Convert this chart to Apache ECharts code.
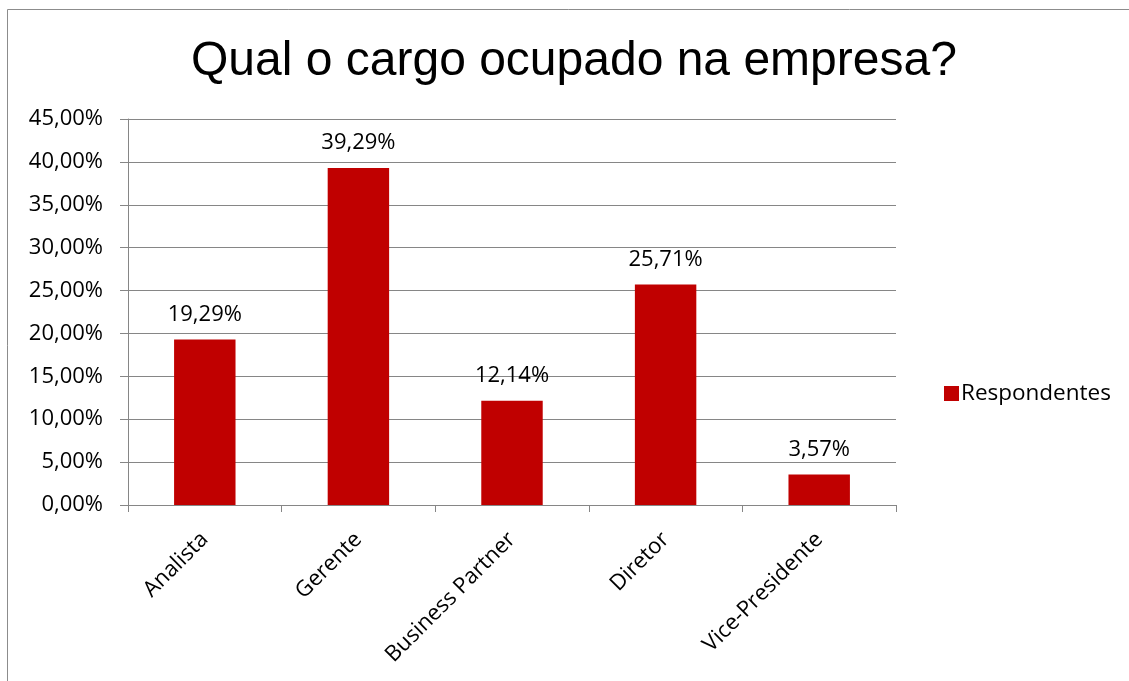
<!DOCTYPE html>
<html>
<head>
<meta charset="utf-8">
<script src="https://cdn.jsdelivr.net/npm/echarts@6/dist/echarts.min.js"></script>
<style>
html,body{margin:0;padding:0;background:#fff;}
#c{width:1129px;height:681px;}
</style>
</head>
<body>
<div id="c"></div>
<script>
const categories = ['Analista', 'Gerente', 'Business Partner', 'Diretor', 'Vice-Presidente'];
const values = [19.29, 39.29, 12.14, 25.71, 3.57];
const seriesName = 'Respondentes';
const titleText = 'Qual o cargo ocupado na empresa?';

const fmt = v => v.toFixed(2).replace('.', ',') + '%';
const chart = echarts.init(document.getElementById('c'));
chart.setOption({
  animation: false,
  backgroundColor: '#fff',
  graphic: [{
    type: 'rect', shape: {x: 7.5, y: 9.5, width: 1130, height: 700},
    style: {fill: 'none', stroke: '#8c8c8c', lineWidth: 1}, silent: true, z: -1
  }],
  title: {
    text: titleText, left: 186, top: 33,
    textStyle: {fontFamily: 'Liberation Sans', fontSize: 48, fontWeight: 'normal', color: '#000'}
  },
  legend: {
    data: [seriesName], left: 939, top: 377, icon: 'rect', itemWidth: 15, itemHeight: 15, itemGap: 6,
    textStyle: {fontFamily: 'Open Sans', fontSize: 22.5, color: '#000', padding: [0,0,0,-3]}
  },
  grid: {left: 128, right: 233, top: 119, bottom: 176, containLabel: false},
  xAxis: {
    type: 'category', data: categories,
    axisLine: {lineStyle: {color: '#868686', width: 1}},
    axisTick: {show: true, length: 7, lineStyle: {color: '#868686'}},
    axisLabel: {rotate: 45, margin: 31, fontFamily: 'Open Sans', fontSize: 22, color: '#000', interval: 0}
  },
  yAxis: {
    type: 'value', min: 0, max: 45, interval: 5,
    axisLine: {show: true, lineStyle: {color: '#868686'}},
    axisTick: {show: true, length: 8, lineStyle: {color: '#868686'}},
    splitLine: {lineStyle: {color: '#868686'}},
    axisLabel: {formatter: v => fmt(v), margin: 25, fontFamily: 'Open Sans', fontSize: 22, color: '#000'}
  },
  series: [{
    name: seriesName, type: 'bar', data: values, barWidth: '40%',
    itemStyle: {color: '#C00000'},
    label: {show: true, position: 'top', distance: 14, formatter: p => fmt(p.value),
      fontFamily: 'Open Sans', fontSize: 22, color: '#000'}
  }]
});
</script>
</body>
</html>
